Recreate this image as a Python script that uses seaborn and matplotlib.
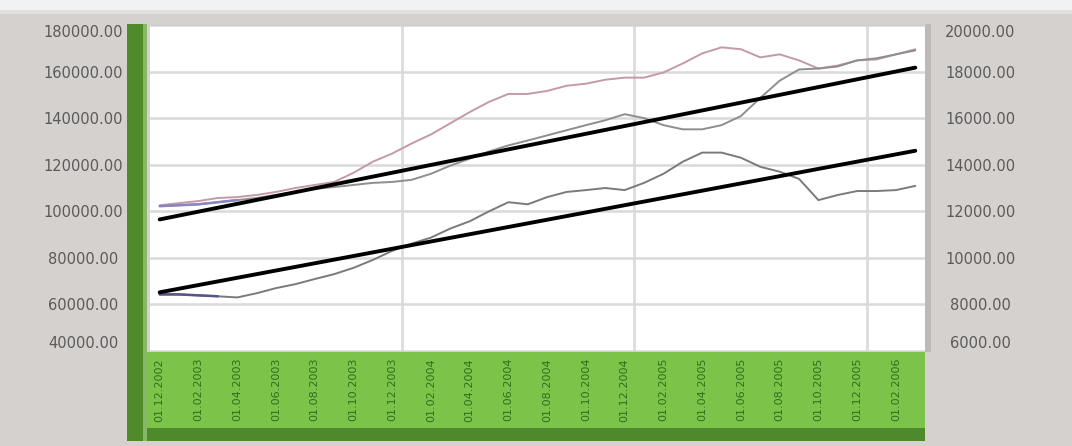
import numpy as np
import pandas as pd
import matplotlib
matplotlib.use("Agg")
import matplotlib.pyplot as plt
from matplotlib.patches import Rectangle
import seaborn as sns

# monthly series (40 points)
pink_vals = [102600, 103500, 104400, 105700, 106100, 107000, 108300, 110000, 111300, 112600,
             116500, 121300, 124800, 129100, 133000, 137800, 142600, 147000, 150400, 150400,
             151700, 153900, 154800, 156500, 157400, 157400, 159600, 163500, 167800, 170400,
             169600, 166100, 167400, 164800, 161300, 162600, 164800, 165200, 167400, 169600]
grey_vals = [102200, 102600, 103000, 103900, 104800, 105700, 107000, 108300, 109600, 110400,
             111300, 112200, 112600, 113500, 116100, 119600, 122600, 125700, 128300, 130400,
             132600, 134800, 137000, 139100, 141700, 140000, 137000, 135200, 135200, 137000,
             140900, 148700, 156100, 160900, 161300, 162200, 164800, 165700, 167400, 169100]
# lower series, right axis
lower_vals = [8430, 8430, 8390, 8350, 8300, 8480, 8700, 8870, 9090, 9300,
              9570, 9910, 10300, 10610, 10870, 11260, 11570, 12000, 12390, 12300,
              12610, 12830, 12910, 13000, 12910, 13220, 13610, 14130, 14520, 14520,
              14300, 13910, 13700, 13390, 12480, 12700, 12870, 12870, 12910, 13090]
# trend lines (start, end)
trend_left = [96500, 161700]
trend_right = [8520, 14600]

date_labels = ["01.12.2002", "01.02.2003", "01.04.2003", "01.06.2003", "01.08.2003",
               "01.10.2003", "01.12.2003", "01.02.2004", "01.04.2004", "01.06.2004",
               "01.08.2004", "01.10.2004", "01.12.2004", "01.02.2005", "01.04.2005",
               "01.06.2005", "01.08.2005", "01.10.2005", "01.12.2005", "01.02.2006"]
left_ticks = [40000, 60000, 80000, 100000, 120000, 140000, 160000, 180000]
right_ticks = [6000, 8000, 10000, 12000, 14000, 16000, 18000, 20000]
year_breaks = [12.5, 24.5, 36.5]

idx = np.arange(len(pink_vals))
df = pd.DataFrame({"i": idx, "pink": pink_vals, "grey": grey_vals, "lower": lower_vals})
trend_x = [idx[0], idx[-1]]

sns.set_style("white")
W, H = 1072, 446
fig = plt.figure(figsize=(W / 100, H / 100), dpi=100)
fig.patch.set_facecolor("#d5d1cf")

def fig_rect(x0, y0, x1, y1, color, z=-5):
    fig.patches.append(Rectangle((x0 / W, 1 - y1 / H), (x1 - x0) / W, (y1 - y0) / H,
                                 transform=fig.transFigure, color=color, zorder=z, lw=0))

fig_rect(0, 0, W, 10, "#f3f2f2")
fig_rect(0, 10, W, 14, "#e2dfde")
fig_rect(147, 352, 925, 430, "#7cc34a")
fig_rect(147, 428, 925, 441, "#4d8a2b")
fig_rect(127, 24, 147, 441, "#4f8a2b")
fig_rect(143, 24, 147, 441, "#86b866")
fig_rect(925, 24, 931, 352, "#bdb9b8")

ax = fig.add_axes([150 / W, 1 - 351 / H, 775 / W, (351 - 25) / H])
ax.set_facecolor("white")
ax2 = ax.twinx()

ax.set_xlim(-0.5, len(idx) - 0.5)
ax.set_ylim(40000, 180000)
ax2.set_ylim(6000, 20000)

ax.set_yticks(left_ticks)
ax.set_yticklabels([f"{v:.2f}" for v in left_ticks])
ax2.set_yticks(right_ticks)
ax2.set_yticklabels([f"{v:.2f}" for v in right_ticks])
ax.set_xticks(idx[::2])
ax.set_xticklabels(date_labels, rotation=90)

ax.grid(axis="y", color="#d9d9d9", lw=1.8)
for xb in year_breaks:
    ax.axvline(xb, color="#dcdcdc", lw=2.0, zorder=0)
ax.set_axisbelow(True)

sns.lineplot(data=df, x="i", y="pink", ax=ax, color="#c49aa8", lw=1.4, zorder=3)
sns.lineplot(data=df, x="i", y="grey", ax=ax, color="#8e8e8e", lw=1.4, zorder=3)
sns.lineplot(data=df.iloc[:5], x="i", y="grey", ax=ax, color="#8985c0", lw=1.8, zorder=3)
sns.lineplot(x=trend_x, y=trend_left, ax=ax, color="black", lw=2.8, zorder=4)
sns.lineplot(data=df, x="i", y="lower", ax=ax2, color="#7a7a7a", lw=1.4, zorder=3)
sns.lineplot(data=df.iloc[:4], x="i", y="lower", ax=ax2, color="#55558a", lw=1.8, zorder=3)
sns.lineplot(x=trend_x, y=trend_right, ax=ax2, color="black", lw=2.8, zorder=4)

for a in (ax, ax2):
    a.set_xlabel("")
    a.set_ylabel("")
    for s in a.spines.values():
        s.set_visible(False)
ax.spines["top"].set_visible(True)
ax.spines["top"].set_color("#cfcfcf")

ax.tick_params(axis="y", length=0, pad=48, labelsize=10.5, labelcolor="#5a5a5a")
ax2.tick_params(axis="y", length=0, pad=40, labelsize=10.5, labelcolor="#5a5a5a")
for a in (ax, ax2):
    labs = a.get_yticklabels()
    for lab in labs:
        lab.set_horizontalalignment("center")
    labs[0].set_verticalalignment("bottom")
    labs[-1].set_verticalalignment("top")
ax.tick_params(axis="x", length=0, pad=5, labelsize=8, labelcolor="#2f6e1c")

fig.savefig("out.png", dpi=100, facecolor=fig.get_facecolor())
